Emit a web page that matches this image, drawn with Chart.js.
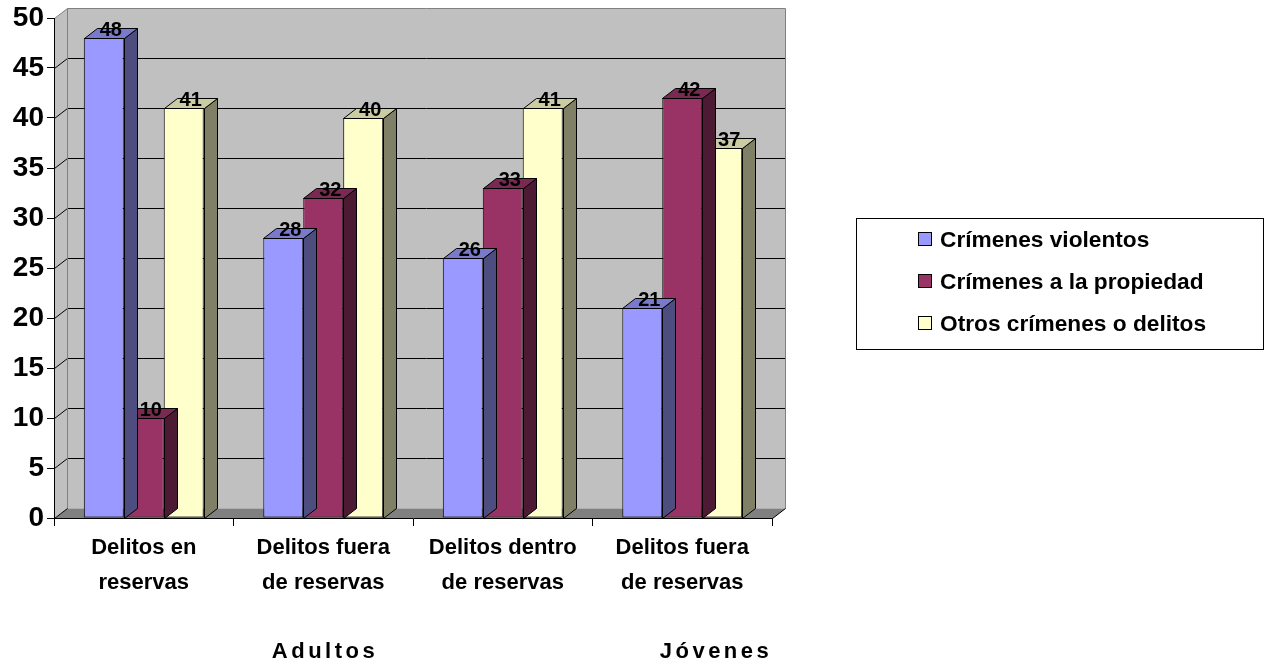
<!DOCTYPE html>
<html>
<head>
<meta charset="utf-8">
<script src="https://cdn.jsdelivr.net/npm/chart.js@4.4.1/dist/chart.umd.min.js"></script>
<style>
  html, body { margin: 0; padding: 0; background: #fff; }
  canvas { display: block; }
</style>
</head>
<body>
<canvas id="c" width="1269" height="663"></canvas>
<script>
// Categories (two-line axis labels) and series values
const categories = [
  ['Delitos en', 'reservas'],
  ['Delitos fuera', 'de reservas'],
  ['Delitos dentro', 'de reservas'],
  ['Delitos fuera', 'de reservas']
];
const seriesNames = ['Crímenes violentos', 'Crímenes a la propiedad', 'Otros crímenes o delitos'];
const violentos = [48, 28, 26, 21];
const propiedad = [10, 32, 33, 42];
const otros = [41, 40, 41, 37];
const groupLabels = ['Adultos', 'Jóvenes'];
const groupSpans = [[0, 2], [3, 3]];
const yMin = 0, yMax = 50, yStep = 5;

const FONT = "'Liberation Sans', Arial, Helvetica, sans-serif";
const faceColors = ['#9999ff', '#993366', '#ffffcc'];
const topColors = ['#7a7acc', '#7a2952', '#cccca3'];
const sideColors = ['#4d4d80', '#4d1a33', '#808066'];
const DX = 13, DY = -10;          // depth offset of the 3D columns / walls
const groupNudge = [0, 32];       // horizontal nudge of group captions

function poly(ctx, pts, fill, stroke) {
  ctx.beginPath();
  ctx.moveTo(pts[0][0], pts[0][1]);
  for (let i = 1; i < pts.length; i++) ctx.lineTo(pts[i][0], pts[i][1]);
  ctx.closePath();
  if (fill) { ctx.fillStyle = fill; ctx.fill(); }
  if (stroke) { ctx.strokeStyle = stroke; ctx.lineWidth = 1; ctx.stroke(); }
}

// Walls, floor and gridlines of the 3D plot box
const wallsPlugin = {
  id: 'walls',
  beforeDraw(chart) {
    const ctx = chart.ctx;
    const { left, right, top, bottom } = chart.chartArea;
    const ys = chart.scales.y;
    ctx.save();
    ctx.fillStyle = '#fff';
    ctx.fillRect(0, 0, chart.width, chart.height);
    const L = left + 0.5, R = right + 0.5, T = top + 0.5, B = bottom + 0.5;
    // back wall
    poly(ctx, [[L + DX, T + DY], [R + DX, T + DY], [R + DX, B + DY], [L + DX, B + DY]], '#c0c0c0', null);
    // side wall
    poly(ctx, [[L, B], [L, T], [L + DX, T + DY], [L + DX, B + DY]], '#c0c0c0', null);
    // floor
    poly(ctx, [[L, B], [R, B], [R + DX, B + DY], [L + DX, B + DY]], '#808080', null);
    // gridlines on back and side walls
    ctx.strokeStyle = '#000';
    ctx.lineWidth = 1;
    for (let v = yMin + yStep; v < yMax; v += yStep) {
      const py = Math.round(ys.getPixelForValue(v)) + 0.5;
      ctx.beginPath();
      ctx.moveTo(L + DX, py + DY);
      ctx.lineTo(R + DX, py + DY);
      ctx.moveTo(L, py);
      ctx.lineTo(L + DX, py + DY);
      ctx.stroke();
    }
    // wall outlines
    ctx.strokeStyle = '#808080';
    ctx.beginPath();
    ctx.moveTo(L, T);
    ctx.lineTo(L + DX, T + DY);
    ctx.lineTo(R + DX, T + DY);
    ctx.lineTo(R + DX, B + DY);
    ctx.moveTo(L + DX, T + DY);
    ctx.lineTo(L + DX, B + DY);
    ctx.stroke();
    ctx.strokeStyle = '#000';
    ctx.beginPath();
    ctx.moveTo(R, B);
    ctx.lineTo(R + DX, B + DY);
    ctx.moveTo(L, B);
    ctx.lineTo(L + DX, B + DY);
    ctx.stroke();
    ctx.restore();
  }
};

// Side and top faces of each column, drawn right after its dataset
const columnsPlugin = {
  id: 'columns3d',
  afterDatasetDraw(chart, args) {
    const ctx = chart.ctx;
    const i = args.index;
    const meta = chart.getDatasetMeta(i);
    ctx.save();
    meta.data.forEach(bar => {
      const p = bar.getProps(['x', 'y', 'base', 'width'], true);
      const l = Math.round(p.x - p.width / 2) + 0.5;
      const r = Math.round(p.x + p.width / 2) + 0.5;
      const t = Math.round(p.y) + 0.5;
      const b = Math.round(p.base) + 0.5;
      poly(ctx, [[r, t], [r + DX, t + DY], [r + DX, b + DY], [r, b]], sideColors[i], '#000');
      poly(ctx, [[l, t], [l + DX, t + DY], [r + DX, t + DY], [r, t]], topColors[i], '#000');
    });
    ctx.restore();
  },
  afterDatasetsDraw(chart) {
    const ctx = chart.ctx;
    ctx.save();
    ctx.fillStyle = '#000';
    ctx.font = 'bold 20px ' + FONT;
    ctx.textAlign = 'center';
    ctx.textBaseline = 'alphabetic';
    chart.data.datasets.forEach((ds, i) => {
      const meta = chart.getDatasetMeta(i);
      meta.data.forEach((bar, j) => {
        const p = bar.getProps(['x', 'y'], true);
        ctx.fillText(String(ds.data[j]), p.x + 7, p.y - 2);
      });
    });
    ctx.restore();
  }
};

// Legend box and group captions under the axis
const extrasPlugin = {
  id: 'extras',
  afterDraw(chart) {
    const ctx = chart.ctx;
    ctx.save();
    ctx.strokeStyle = '#000';
    ctx.lineWidth = 1;
    ctx.strokeRect(856.5, 218.5, 407, 131);
    ctx.font = 'bold 22.7px ' + FONT;
    ctx.textBaseline = 'middle';
    ctx.textAlign = 'left';
    chart.data.datasets.forEach((ds, i) => {
      const cy = 240 + i * 42;
      ctx.fillStyle = ds.backgroundColor;
      ctx.fillRect(918.5, cy - 7.5, 13, 13);
      ctx.strokeRect(918.5, cy - 7.5, 13, 13);
      ctx.fillStyle = '#000';
      ctx.fillText(ds.label, 940, cy + 1);
    });

    const xs = chart.scales.x;
    ctx.font = 'bold 22px ' + FONT;
    ctx.letterSpacing = '3.5px';
    ctx.textBaseline = 'alphabetic';
    ctx.textAlign = 'left';
    groupLabels.forEach((g, k) => {
      const [a, b] = groupSpans[k];
      const cx = (xs.getPixelForTick(a) + xs.getPixelForTick(b)) / 2 + groupNudge[k];
      const w = ctx.measureText(g).width - 3.5;
      ctx.fillText(g, cx - w / 2, 658);
    });
    ctx.restore();
  }
};

const datasets = [violentos, propiedad, otros].map((vals, i) => ({
  label: seriesNames[i],
  data: vals,
  backgroundColor: faceColors[i],
  borderColor: '#000',
  borderWidth: 1,
  borderSkipped: false,
  categoryPercentage: 0.668,
  barPercentage: 1.0
}));

new Chart(document.getElementById('c'), {
  type: 'bar',
  data: { labels: categories, datasets },
  options: {
    responsive: false,
    animation: false,
    devicePixelRatio: 1,
    layout: { padding: { top: 18, right: 497, left: 0, bottom: 0 } },
    plugins: { legend: { display: false }, tooltip: { enabled: false } },
    scales: {
      x: {
        offset: true,
        grid: { offset: true, drawOnChartArea: false, drawTicks: true, tickLength: 8, color: '#000' },
        border: { display: true, color: '#000', width: 1 },
        ticks: {
          color: '#000',
          font: { family: FONT, size: 22, weight: 'bold', lineHeight: 1.6 },
          padding: 4,
          maxRotation: 0,
          autoSkip: false
        },
        afterFit(s) { s.height = 145; }
      },
      y: {
        min: yMin,
        max: yMax,
        grid: { drawOnChartArea: false, drawTicks: true, tickLength: 7, color: '#000' },
        border: { display: true, color: '#000', width: 1 },
        ticks: {
          stepSize: yStep,
          color: '#000',
          font: { family: FONT, size: 28, weight: 'bold', lineHeight: 1 },
          padding: 3
        },
        afterFit(s) { s.width = 54; }
      }
    }
  },
  plugins: [wallsPlugin, columnsPlugin, extrasPlugin]
});
</script>
</body>
</html>
